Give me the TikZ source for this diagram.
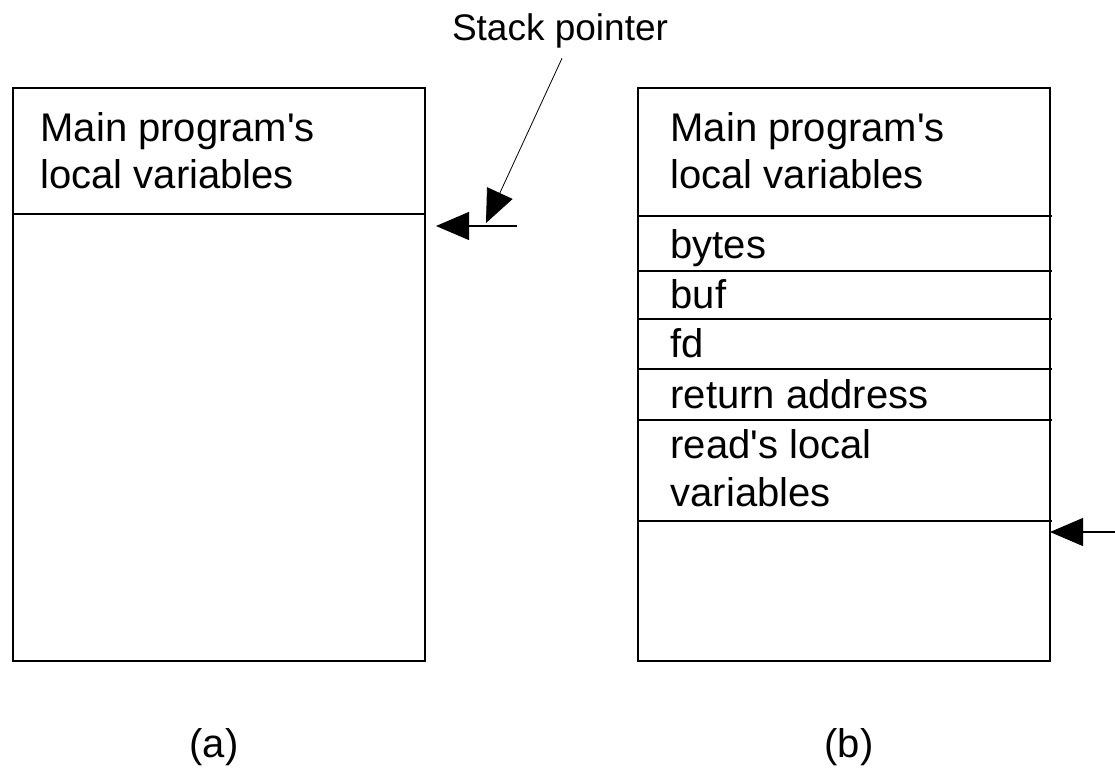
\documentclass[tikz,border=0pt]{standalone}
\usepackage{fontspec}
\setmainfont{Liberation Sans}
\usetikzlibrary{arrows.meta}
\tikzset{
  cell/.style={anchor=base west,inner sep=0pt,font=\fontsize{40}{46}\selectfont},
  ptr/.style={-{Triangle[length=33pt,width=28pt]},line width=1.2pt}
}

\begin{document}
\begin{tikzpicture}[x=1pt,y=-1pt,line width=1.2pt]
			\useasboundingbox (0,0) rectangle (1115,769);
			% stack (a)
			\coordinate (a1) at (13,88);
			\coordinate (a2) at (425,661);
			\coordinate (aw) at (13,214);
			\coordinate (ae) at (425,214);
			% stack (b)
			\coordinate (b1) at (638,88);
			\coordinate (b2) at (1050,661);
			\coordinate (bw1) at (638,216);
			\coordinate (be1) at (1052,216);
			\coordinate (bw2) at (638,271);
			\coordinate (be2) at (1052,271);
			\coordinate (bw3) at (638,319);
			\coordinate (be3) at (1052,319);
			\coordinate (bw4) at (638,369);
			\coordinate (be4) at (1052,369);
			\coordinate (bw5) at (638,420);
			\coordinate (be5) at (1052,420);
			\coordinate (bw6) at (638,521);
			\coordinate (be6) at (1052,521);
			% pointers
			\coordinate (tipA) at (436,226);
			\coordinate (tailA) at (517,226);
			\coordinate (spA) at (486,223);
			\coordinate (tipB) at (1050,532);
			\coordinate (tailB) at (1115,532);
			
			\draw (a1) rectangle (a2);
			\draw (aw) -- (ae);
			\draw (b1) rectangle (b2);
			\draw (bw1) -- (be1);
			\draw (bw2) -- (be2);
			\draw (bw3) -- (be3);
			\draw (bw4) -- (be4);
			\draw (bw5) -- (be5);
			\draw (bw6) -- (be6);
			
			\node (mainA) at (40,141) [cell]{Main program\textquotesingle s};
			\node (locA) at (40,188) [cell]{local variables};
			\node (mainB) at (670,141) [cell]{Main program\textquotesingle s};
			\node (locB) at (670,188) [cell]{local variables};
			\node (bytes) at (670,258) [cell]{bytes};
			\node (buf) at (670,308) [cell]{buf};
			\node (fd) at (670,357) [cell]{fd};
			\node (ret) at (670,408) [cell]{return address};
			\node (readA) at (670,458) [cell]{read\textquotesingle s local};
			\node (readB) at (670,506) [cell]{variables};
			
			\node (sp) at (560,40) [cell,anchor=base,font=\fontsize{37}{44}\selectfont]{Stack pointer};
			\node (capA) at (214,757) [cell,anchor=base]{(a)};
			\node (capB) at (849,757) [cell,anchor=base]{(b)};
			
			\draw[ptr] (tailA) -- (tipA);
			\draw[ptr,line width=0.8pt] ([xshift=2pt,yshift=-10pt]sp.south) -- (spA);
			\draw[ptr] (tailB) -- (tipB);
		\end{tikzpicture}
\end{document}
